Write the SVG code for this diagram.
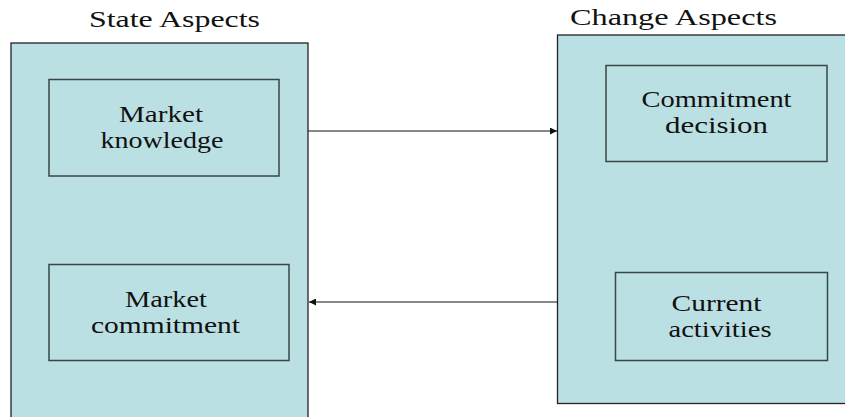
<svg xmlns="http://www.w3.org/2000/svg" width="845" height="417" viewBox="0 0 845 417">
<style>
.outer{fill:#bbe0e3;stroke:#222;stroke-width:1.3}
.inner{fill:#bbe0e3;stroke:#3a4646;stroke-width:1.5}
.t{font-family:"Liberation Serif","Times New Roman",serif;font-size:24px;fill:#111;text-anchor:middle}
.title{font-family:"Liberation Serif","Times New Roman",serif;font-size:24px;fill:#111}
.conn{stroke:#111;stroke-width:1.2;fill:none}
</style>
<defs>
<marker id="ah" viewBox="0 0 10 10" refX="10" refY="5" markerWidth="10" markerHeight="7" markerUnits="userSpaceOnUse" orient="auto">
<path d="M0,0 L10,5 L0,10 z" fill="#111"/>
</marker>
</defs>
<rect width="845" height="417" fill="#fff"/>
<g id="state-aspects">
<text class="title" x="89" y="27" textLength="171" lengthAdjust="spacingAndGlyphs">State Aspects</text>
<rect class="outer" x="11" y="43" width="297" height="380"/>
</g>
<g id="change-aspects">
<text class="title" x="570" y="25" textLength="207" lengthAdjust="spacingAndGlyphs">Change Aspects</text>
<rect class="outer" x="557.5" y="35" width="295" height="368.5"/>
</g>
<g id="market-knowledge">
<rect class="inner" x="49" y="79.5" width="230" height="96.5"/>
<text class="t" x="161" y="122" textLength="84" lengthAdjust="spacingAndGlyphs">Market</text>
<text class="t" x="162" y="147.5" textLength="123" lengthAdjust="spacingAndGlyphs">knowledge</text>
</g>
<g id="market-commitment">
<rect class="inner" x="49" y="264.5" width="240" height="96"/>
<text class="t" x="166" y="306.5" textLength="82" lengthAdjust="spacingAndGlyphs">Market</text>
<text class="t" x="165.5" y="333" textLength="149" lengthAdjust="spacingAndGlyphs">commitment</text>
</g>
<g id="commitment-decision">
<rect class="inner" x="606" y="65.5" width="221" height="96"/>
<text class="t" x="716.5" y="107" textLength="150" lengthAdjust="spacingAndGlyphs">Commitment</text>
<text class="t" x="716.5" y="132.5" textLength="103" lengthAdjust="spacingAndGlyphs">decision</text>
</g>
<g id="current-activities">
<rect class="inner" x="615.5" y="272.5" width="212" height="88"/>
<text class="t" x="716.5" y="310.5" textLength="90" lengthAdjust="spacingAndGlyphs">Current</text>
<text class="t" x="720" y="337" textLength="103" lengthAdjust="spacingAndGlyphs">activities</text>
</g>
<g id="connectors">
<line class="conn" x1="308" y1="131" x2="557" y2="131" marker-end="url(#ah)"/>
<line class="conn" x1="557" y1="302" x2="309" y2="302" marker-end="url(#ah)"/>
</g>
</svg>
